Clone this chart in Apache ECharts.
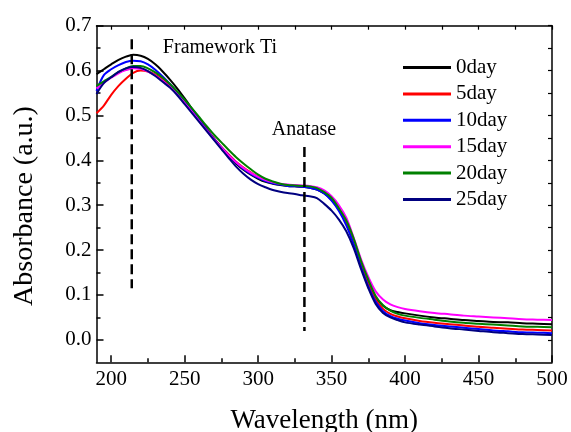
<!DOCTYPE html>
<html>
<head>
<meta charset="utf-8">
<script src="https://cdn.jsdelivr.net/npm/echarts@6/dist/echarts.min.js"></script>
<style>html,body{margin:0;padding:0;background:#fff}#c{width:571px;height:432px}</style>
</head>
<body>
<div id="c"></div>
<script>
const wavelength = [190,195,200,205,210,215,220,225,230,235,240,245,250,255,260,265,270,275,280,285,290,295,300,305,310,315,320,325,330,335,340,345,350,355,360,365,370,375,380,385,390,395,400,410,420,430,440,450,460,470,480,490,500];

const day0  = [0.592,0.603,0.614,0.624,0.631,0.635,0.633,0.626,0.614,0.598,0.580,0.560,0.538,0.515,0.492,0.470,0.448,0.428,0.410,0.393,0.379,0.368,0.359,0.352,0.348,0.345,0.343,0.342,0.341,0.339,0.335,0.326,0.312,0.290,0.260,0.222,0.172,0.128,0.095,0.076,0.066,0.062,0.059,0.054,0.050,0.047,0.044,0.042,0.040,0.039,0.037,0.036,0.035];
const day5  = [0.505,0.522,0.546,0.566,0.582,0.595,0.600,0.598,0.591,0.580,0.566,0.550,0.531,0.511,0.490,0.469,0.449,0.430,0.413,0.397,0.384,0.373,0.363,0.356,0.351,0.347,0.344,0.343,0.342,0.341,0.337,0.328,0.313,0.291,0.260,0.219,0.168,0.124,0.090,0.069,0.058,0.052,0.048,0.042,0.038,0.035,0.032,0.029,0.027,0.025,0.023,0.022,0.021];
const day10 = [0.555,0.590,0.603,0.612,0.619,0.622,0.621,0.614,0.602,0.587,0.570,0.551,0.531,0.510,0.489,0.468,0.448,0.429,0.411,0.395,0.381,0.370,0.361,0.354,0.349,0.346,0.343,0.342,0.341,0.339,0.335,0.326,0.310,0.287,0.255,0.213,0.163,0.119,0.085,0.064,0.053,0.047,0.043,0.037,0.033,0.030,0.027,0.024,0.021,0.019,0.017,0.016,0.015];
const day15 = [0.560,0.573,0.584,0.594,0.601,0.605,0.604,0.598,0.589,0.577,0.563,0.547,0.528,0.508,0.487,0.466,0.446,0.428,0.411,0.396,0.383,0.372,0.363,0.356,0.351,0.348,0.346,0.345,0.344,0.343,0.340,0.333,0.320,0.300,0.272,0.228,0.180,0.140,0.108,0.090,0.079,0.073,0.069,0.064,0.060,0.057,0.054,0.052,0.050,0.048,0.046,0.045,0.044];
const day20 = [0.566,0.576,0.586,0.597,0.605,0.610,0.610,0.605,0.596,0.584,0.570,0.553,0.535,0.516,0.496,0.476,0.457,0.440,0.423,0.407,0.393,0.380,0.368,0.359,0.353,0.348,0.345,0.344,0.343,0.342,0.338,0.329,0.316,0.293,0.266,0.226,0.176,0.134,0.098,0.077,0.065,0.058,0.054,0.049,0.045,0.041,0.038,0.036,0.034,0.032,0.030,0.029,0.028];
const day25 = [0.548,0.572,0.585,0.597,0.605,0.608,0.606,0.599,0.588,0.575,0.562,0.545,0.525,0.505,0.485,0.465,0.445,0.425,0.405,0.386,0.370,0.357,0.347,0.340,0.334,0.330,0.327,0.325,0.322,0.320,0.316,0.303,0.288,0.268,0.242,0.205,0.158,0.115,0.080,0.060,0.050,0.044,0.039,0.034,0.030,0.026,0.023,0.020,0.017,0.015,0.013,0.012,0.011];

const seriesNames = ['0day','5day','10day','15day','20day','25day'];
const seriesValues = [day0, day5, day10, day15, day20, day25];
const seriesColors = ['#000000','#ff0000','#0000ff','#ff00ff','#008000','#000080'];

const frameworkLine = [[214, 0.67], [214, 0.115]];
const anataseLine = [[331.5, 0.43], [331.5, 0.02]];

const xLabelTicks = [200,250,300,350,400,450,500];
const xMinorTicks = [225,275,325,375,425,475];
const xTopTicks = [200,225,250,275,300,325,350,375,400,425,450,475,500];
const yLabelTicks = [0,0.1,0.2,0.3,0.4,0.5,0.6,0.7];
const yMinorTicks = [0.05,0.15,0.25,0.35,0.45,0.55,0.65];
const yRightTicks = [0,0.05,0.1,0.15,0.2,0.25,0.3,0.35,0.4,0.45,0.5,0.55,0.6,0.65,0.7];

const FONT = "'Liberation Serif', 'Times New Roman', serif";
const chart = echarts.init(document.getElementById('c'), null, {renderer: 'canvas'});

const axisLineStyle = {show: true, onZero: false, lineStyle: {color: '#000', width: 1.5}};
const noLine = {show: false, onZero: false};
const baseX = {type: 'value', min: 190, max: 500, gridIndex: 0, splitLine: {show: false}};
const baseY = {type: 'value', min: -0.05, max: 0.7, gridIndex: 0, splitLine: {show: false}};

const lineSeries = seriesNames.map((n, i) => ({
  name: n,
  type: 'line',
  xAxisIndex: 0, yAxisIndex: 0,
  data: wavelength.map((w, j) => [w, seriesValues[i][j]]),
  showSymbol: false, symbol: 'none',
  smooth: 0.3,
  lineStyle: {color: seriesColors[i], width: 2},
  itemStyle: {color: seriesColors[i]},
  z: 3 + i
}));

const dashSeries = [frameworkLine, anataseLine].map(d => ({
  type: 'line', xAxisIndex: 0, yAxisIndex: 0,
  data: d, showSymbol: false, symbol: 'none', silent: true,
  lineStyle: {color: '#000', width: 2.5, type: [10, 5]},
  z: 10
}));

chart.setOption({
  animation: false,
  backgroundColor: '#fff',
  grid: {left: 96.5, right: 19, top: 25.7, bottom: 69.7, containLabel: false, outerBoundsMode: 'none'},
  xAxis: [
    Object.assign({}, baseX, {
      position: 'bottom',
      name: 'Wavelength (nm)', nameLocation: 'middle', nameGap: 45,
      nameTextStyle: {fontFamily: FONT, fontSize: 27, color: '#000'},
      axisLine: axisLineStyle,
      axisTick: {show: true, inside: true, length: 7, customValues: xLabelTicks, lineStyle: {color: '#000', width: 1.5}},
      axisLabel: {show: true, customValues: xLabelTicks, margin: 7, fontFamily: FONT, fontSize: 21, color: '#000'}
    }),
    Object.assign({}, baseX, {
      position: 'bottom',
      axisLine: noLine,
      axisTick: {show: true, inside: true, length: 4, customValues: xMinorTicks, lineStyle: {color: '#000', width: 1.5}},
      axisLabel: {show: false}
    }),
    Object.assign({}, baseX, {
      position: 'top',
      axisLine: axisLineStyle,
      axisTick: {show: true, inside: true, length: 4, customValues: xTopTicks, lineStyle: {color: '#000', width: 1.2}},
      axisLabel: {show: false}
    })
  ],
  yAxis: [
    Object.assign({}, baseY, {
      position: 'left',
      axisLine: axisLineStyle,
      axisTick: {show: true, inside: true, length: 7, customValues: yLabelTicks, lineStyle: {color: '#000', width: 1.5}},
      axisLabel: {show: true, customValues: yLabelTicks, margin: 5, fontFamily: FONT, fontSize: 21, color: '#000',
        formatter: v => v.toFixed(1)}
    }),
    Object.assign({}, baseY, {
      position: 'left',
      axisLine: noLine,
      axisTick: {show: true, inside: true, length: 4, customValues: yMinorTicks, lineStyle: {color: '#000', width: 1.5}},
      axisLabel: {show: false}
    }),
    Object.assign({}, baseY, {
      position: 'right',
      axisLine: axisLineStyle,
      axisTick: {show: true, inside: true, length: 4, customValues: yRightTicks, lineStyle: {color: '#000', width: 1.2}},
      axisLabel: {show: false}
    })
  ],
  legend: {
    data: seriesNames,
    orient: 'vertical',
    left: 403, top: 57,
    padding: 0,
    itemWidth: 48, itemHeight: 3,
    itemGap: 5.4,
    icon: 'rect',
    textStyle: {fontFamily: FONT, fontSize: 21, lineHeight: 20, color: '#000', padding: [0, 0, 0, 0]}
  },
  graphic: [
    {type: 'text', x: 25, y: 206, rotation: Math.PI / 2, style: {text: 'Absorbance (a.u.)', fontFamily: FONT, fontSize: 28, fill: '#000', align: 'center', verticalAlign: 'middle'}},
    {type: 'text', x: 220, y: 48, style: {text: 'Framework Ti', fontFamily: FONT, fontSize: 20, fill: '#000', align: 'center', verticalAlign: 'middle'}},
    {type: 'text', x: 304, y: 130, style: {text: 'Anatase', fontFamily: FONT, fontSize: 20, fill: '#000', align: 'center', verticalAlign: 'middle'}}
  ],
  series: lineSeries.concat(dashSeries)
});
</script>
</body>
</html>
